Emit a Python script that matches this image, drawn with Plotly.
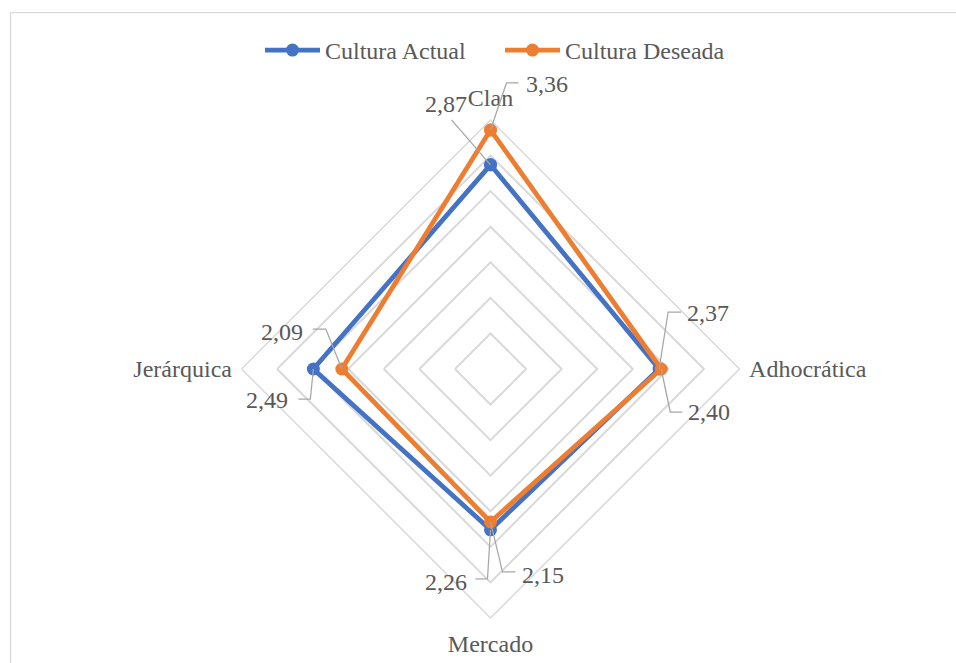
import math
import plotly.graph_objects as go

# ---- data -------------------------------------------------------------
categories = ["Clan", "Adhocrática", "Mercado", "Jerárquica"]
actual = [2.87, 2.37, 2.26, 2.49]
deseada = [3.36, 2.40, 2.15, 2.09]
actual_labels = ["2,87", "2,37", "2,26", "2,49"]
deseada_labels = ["3,36", "2,40", "2,15", "2,09"]
series_names = ["Cultura Actual", "Cultura Deseada"]

# ---- geometry / style -------------------------------------------------
W, H = 956, 663
CX, CY = 490.5, 369.0        # centre of the radar, px
R_PX = 249.0                 # radius of the outer ring, px
R_MAX = 3.5
SCALE = R_PX / R_MAX         # px per unit
BLUE, ORANGE = "#4472C4", "#ED7D31"
GRID = "#D9D9D9"
TEXT = "#595959"
FONT = "'Times New Roman', Tinos, 'Liberation Serif', 'DejaVu Serif', serif"
FS = 24

# angle of each category, clockwise from the top
angles = [90 * i for i in range(len(categories))]

# label placement: (text shift dx, dy) and leader elbow path, in px
# relative to the data point (y up)
label_style_actual = [
    dict(shift=(-45, 61), path=[(-39, 45)]),
    dict(shift=(49, 56), path=[(22, 57), (9, 57)]),
    dict(shift=(-45, -52), path=[(-15, -49), (-3, -49)]),
    dict(shift=(-46, -31), path=[(-15, -30), (-3, -30)]),
]
label_style_deseada = [
    dict(shift=(56, 46), path=[(28, 47), (16, 47)]),
    dict(shift=(48, -43), path=[(21, -43), (9, -43)]),
    dict(shift=(52, -53), path=[(25, -50), (12, -50)]),
    dict(shift=(-60, 37), path=[(-29, 40), (-16, 40)]),
]


def to_xy(r, ang):
    a = math.radians(ang)
    return r * math.sin(a), r * math.cos(a)


fig = go.Figure()

for name, vals, color in [(series_names[0], actual, BLUE),
                          (series_names[1], deseada, ORANGE)]:
    fig.add_trace(go.Scatterpolar(
        r=vals + vals[:1],
        theta=categories + categories[:1],
        name=name,
        mode="lines+markers",
        line=dict(color=color, width=4.75),
        marker=dict(color=color, size=13),
        hoverinfo="skip",
    ))

# invisible cartesian trace so the overlay axes exist
fig.add_trace(go.Scatter(x=[0], y=[0], mode="markers",
                         marker=dict(opacity=0), showlegend=False,
                         hoverinfo="skip", xaxis="x", yaxis="y"))

annotations = []
shapes = []
for vals, texts, styles in [(actual, actual_labels, label_style_actual),
                            (deseada, deseada_labels, label_style_deseada)]:
    for v, t, ang, st in zip(vals, texts, angles, styles):
        px, py = to_xy(v, ang)
        annotations.append(dict(
            x=px, y=py, xref="x", yref="y", text=t, showarrow=False,
            xshift=st["shift"][0], yshift=st["shift"][1],
            font=dict(family=FONT, size=FS, color=TEXT),
        ))
        pts = st["path"] + [(0, 0)]
        d = "M " + " L ".join(f"{x},{y}" for x, y in pts)
        shapes.append(dict(
            type="path", xref="x", yref="y",
            xsizemode="pixel", ysizemode="pixel",
            xanchor=px, yanchor=py, path=d,
            line=dict(color="#A6A6A6", width=1.25), layer="above",
        ))

# chart border
shapes.append(dict(type="rect", xref="paper", yref="paper",
                   x0=10.5 / W, x1=1.05, y0=-0.05, y1=1 - 12.5 / H,
                   line=dict(color=GRID, width=1.25), layer="below"))

fig.update_layout(
    width=W, height=H,
    margin=dict(l=0, r=0, t=0, b=0),
    paper_bgcolor="white",
    plot_bgcolor="rgba(0,0,0,0)",
    font=dict(family=FONT, color=TEXT),
    polar=dict(
        domain=dict(x=[(CX - R_PX) / W, (CX + R_PX) / W],
                    y=[1 - (CY + R_PX) / H, 1 - (CY - R_PX) / H]),
        bgcolor="white",
        gridshape="linear",
        radialaxis=dict(range=[0, R_MAX], dtick=0.5, showticklabels=False,
                        ticks="", showline=False, gridcolor=GRID,
                        gridwidth=1.5),
        angularaxis=dict(rotation=90, direction="clockwise",
                         showgrid=False, showline=True, linecolor=GRID,
                         linewidth=1.5, ticks="outside", ticklen=4,
                         tickcolor="rgba(0,0,0,0)",
                         tickfont=dict(family=FONT, size=FS, color=TEXT)),
    ),
    xaxis=dict(domain=[0, 1], range=[-CX / SCALE, (W - CX) / SCALE],
               visible=False, fixedrange=True),
    yaxis=dict(domain=[0, 1], range=[-(H - CY) / SCALE, CY / SCALE],
               visible=False, fixedrange=True),
    legend=dict(orientation="h", x=0.5 + 22 / W, xanchor="center",
                y=1 - 28 / H, yanchor="top", itemwidth=55,
                entrywidth=170, entrywidthmode="pixels",
                font=dict(family=FONT, size=FS, color=TEXT)),
    annotations=annotations,
    shapes=shapes,
)

fig.write_html("out.html")
